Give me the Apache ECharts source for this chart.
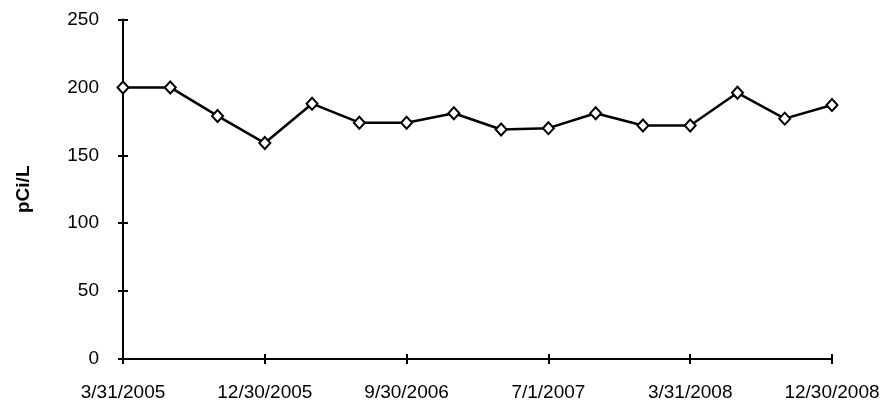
<!DOCTYPE html>
<html>
<head>
<meta charset="utf-8">
<script src="https://cdn.jsdelivr.net/npm/echarts@6/dist/echarts.min.js"></script>
<style>
html,body{margin:0;padding:0;background:#fff;}
#chart{width:885px;height:406px;}
</style>
</head>
<body>
<div id="chart"></div>
<script>
const categories = ["3/31/2005","6/30/2005","9/30/2005","12/30/2005","3/31/2006","6/30/2006","9/30/2006","12/30/2006","3/31/2007","7/1/2007","9/30/2007","12/30/2007","3/31/2008","6/30/2008","9/30/2008","12/30/2008"];
const values = [200,200,179,159,188,174,174,181,169,170,181,172,172,196,177,187];
const yTicks = [0,50,100,150,200,250];
const yTitle = "pCi/L";

const chart = echarts.init(document.getElementById('chart'), null, {renderer:'canvas'});
const font = 'Liberation Sans, Arial, sans-serif';
const axisLineStyle = {color:'#000', width:2};
chart.setOption({
  animation:false,
  backgroundColor:'#fff',
  grid:{left:123, right:53, top:19.5, bottom:47, containLabel:false},
  xAxis:[{
    type:'category', data:categories, boundaryGap:false,
    axisLine:{show:true, lineStyle:axisLineStyle},
    axisTick:{show:true, interval:2, length:5, lineStyle:{color:'#000', width:2}},
    axisLabel:{interval:2, margin:24, color:'#000', fontSize:19, fontFamily:font},
    splitLine:{show:false}
  },{
    type:'category', data:categories, boundaryGap:false, position:'bottom',
    axisLine:{show:false},
    axisTick:{show:true, inside:true, interval:2, length:5, lineStyle:{color:'#000', width:2}},
    axisLabel:{show:false}, splitLine:{show:false}
  }],
  yAxis:[{
    type:'value', min:yTicks[0], max:yTicks[yTicks.length-1], interval:50,
    name:yTitle, nameLocation:'middle', nameGap:90, nameRotate:90,
    nameTextStyle:{color:'#000', fontSize:19, fontWeight:'bold', fontFamily:font},
    axisLine:{show:true, lineStyle:axisLineStyle},
    axisTick:{show:true, length:5, lineStyle:{color:'#000', width:2}},
    axisLabel:{margin:24, color:'#000', fontSize:19, fontFamily:font},
    splitLine:{show:false}
  },{
    type:'value', min:yTicks[0], max:yTicks[yTicks.length-1], interval:50, position:'left',
    axisLine:{show:false},
    axisTick:{show:true, inside:true, length:5, lineStyle:{color:'#000', width:2}},
    axisLabel:{show:false}, splitLine:{show:false}
  }],
  series:[{
    type:'line', data:values, xAxisIndex:0, yAxisIndex:0,
    symbol:'diamond', symbolSize:[11,12], showAllSymbol:true,
    lineStyle:{color:'#000', width:2.5},
    itemStyle:{color:'#fff', borderColor:'#000', borderWidth:2},
    z:5
  }]
});
</script>
</body>
</html>
